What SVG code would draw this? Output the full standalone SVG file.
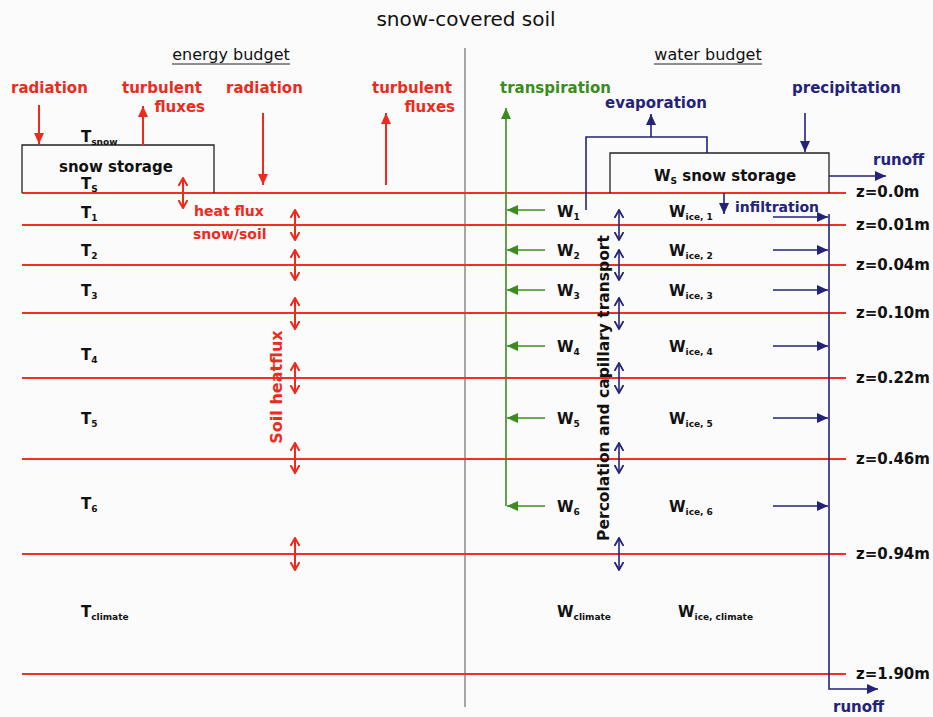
<svg xmlns="http://www.w3.org/2000/svg" width="933" height="717" viewBox="0 0 933 717">
<style>
.t{font-family:"DejaVu Sans",Verdana,sans-serif}
.b{font-family:"DejaVu Sans",Verdana,sans-serif;font-weight:bold;font-size:15px}
.red{fill:#ee2a1e}.navy{fill:#23237a}.grn{fill:#3a8c1e}.blk{fill:#111}
.sub{font-size:9px}
.soil{stroke:#f03020;stroke-width:2;fill:none}
.rl{stroke:#ee2a1e;stroke-width:2;fill:none}
.nl{stroke:#23237a;stroke-width:1.6;fill:none}
.gl{stroke:#3a8c1e;stroke-width:1.6;fill:none}
.box{fill:none;stroke:#222;stroke-width:1.3}
</style>
<defs>
<marker id="ar" markerUnits="userSpaceOnUse" markerWidth="12" markerHeight="12" refX="11" refY="6" orient="auto-start-reverse"><path d="M0,1 L11,6 L0,11 z" fill="#ee2a1e"/></marker>
<marker id="arS" markerUnits="userSpaceOnUse" markerWidth="9" markerHeight="10" refX="8" refY="5" orient="auto-start-reverse"><path d="M0,0.5 L8,5 L0,9.5" fill="none" stroke="#ee2a1e" stroke-width="2"/></marker>
<marker id="an" markerUnits="userSpaceOnUse" markerWidth="12" markerHeight="12" refX="11" refY="6" orient="auto-start-reverse"><path d="M0,1 L11,6 L0,11 z" fill="#23237a"/></marker>
<marker id="anS" markerUnits="userSpaceOnUse" markerWidth="9" markerHeight="10" refX="8" refY="5" orient="auto-start-reverse"><path d="M0,0.5 L8,5 L0,9.5" fill="none" stroke="#23237a" stroke-width="1.8"/></marker>
<marker id="ag" markerUnits="userSpaceOnUse" markerWidth="12" markerHeight="12" refX="11" refY="6" orient="auto-start-reverse"><path d="M0,1 L11,6 L0,11 z" fill="#3a8c1e"/></marker>
</defs>
<rect width="933" height="717" fill="#fbfbfb"/>

<text class="t blk" x="466" y="26" font-size="20" text-anchor="middle">snow-covered soil</text>
<line x1="465" y1="48" x2="465" y2="707" stroke="#8a8a8a" stroke-width="1.5"/>

<g id="headers">
<text class="t blk" x="231" y="60" font-size="16" text-anchor="middle">energy budget</text>
<line x1="172" y1="64" x2="290" y2="64" stroke="#222" stroke-width="1"/>
<text class="t blk" x="708" y="60" font-size="16" text-anchor="middle">water budget</text>
<line x1="654" y1="64" x2="762" y2="64" stroke="#222" stroke-width="1"/>
</g>

<g id="soil-layers">
<line class="soil" x1="22" y1="193" x2="846" y2="193"/>
<line class="soil" x1="22" y1="225" x2="846" y2="225"/>
<line class="soil" x1="22" y1="265" x2="846" y2="265"/>
<line class="soil" x1="22" y1="313" x2="846" y2="313"/>
<line class="soil" x1="22" y1="378" x2="846" y2="378"/>
<line class="soil" x1="22" y1="459" x2="846" y2="459"/>
<line class="soil" x1="22" y1="554" x2="846" y2="554"/>
<line class="soil" x1="22" y1="674" x2="846" y2="674"/>
</g>

<g id="depths" class="b blk">
<text x="856" y="197">z=0.0m</text>
<text x="856" y="230">z=0.01m</text>
<text x="856" y="270">z=0.04m</text>
<text x="856" y="318">z=0.10m</text>
<text x="856" y="383">z=0.22m</text>
<text x="856" y="464">z=0.46m</text>
<text x="856" y="559">z=0.94m</text>
<text x="856" y="679">z=1.90m</text>
</g>

<g id="snow-storage-energy">
<path class="box" d="M22,193 V145 H214 V193"/>
<text class="b blk" x="59" y="172" font-size="14.5">snow storage</text>
<text class="b blk" x="81" y="142">T<tspan class="sub" dy="3">snow</tspan></text>
<text class="b blk" x="81" y="189">T<tspan class="sub" dy="3">S</tspan></text>
</g>

<g id="snow-storage-water">
<path class="box" d="M610,193 V153 H829 V193"/>
<text class="b blk" x="654" y="181">W<tspan class="sub" dy="3">S</tspan><tspan dy="-3"> snow storage</tspan></text>
</g>

<g id="temperatures" class="b blk">
<text x="81" y="218">T<tspan class="sub" dy="3">1</tspan></text>
<text x="81" y="256">T<tspan class="sub" dy="3">2</tspan></text>
<text x="81" y="296">T<tspan class="sub" dy="3">3</tspan></text>
<text x="81" y="360">T<tspan class="sub" dy="3">4</tspan></text>
<text x="81" y="424">T<tspan class="sub" dy="3">5</tspan></text>
<text x="81" y="509">T<tspan class="sub" dy="3">6</tspan></text>
<text x="81" y="617">T<tspan class="sub" dy="3">climate</tspan></text>
</g>

<g id="water-contents" class="b blk">
<text x="557" y="217">W<tspan class="sub" dy="3">1</tspan></text>
<text x="557" y="256">W<tspan class="sub" dy="3">2</tspan></text>
<text x="557" y="296">W<tspan class="sub" dy="3">3</tspan></text>
<text x="557" y="352">W<tspan class="sub" dy="3">4</tspan></text>
<text x="557" y="424">W<tspan class="sub" dy="3">5</tspan></text>
<text x="557" y="512">W<tspan class="sub" dy="3">6</tspan></text>
<text x="557" y="617">W<tspan class="sub" dy="3">climate</tspan></text>
<text x="669" y="217">W<tspan class="sub" dy="3">ice, 1</tspan></text>
<text x="669" y="256">W<tspan class="sub" dy="3">ice, 2</tspan></text>
<text x="669" y="296">W<tspan class="sub" dy="3">ice, 3</tspan></text>
<text x="669" y="352">W<tspan class="sub" dy="3">ice, 4</tspan></text>
<text x="669" y="424">W<tspan class="sub" dy="3">ice, 5</tspan></text>
<text x="669" y="512">W<tspan class="sub" dy="3">ice, 6</tspan></text>
<text x="678" y="617">W<tspan class="sub" dy="3">ice, climate</tspan></text>
</g>

<g id="energy-labels" class="b red">
<text x="11" y="93">radiation</text>
<text x="122" y="93">turbulent</text>
<text x="205" y="112" text-anchor="end">fluxes</text>
<text x="226" y="93">radiation</text>
<text x="372" y="93">turbulent</text>
<text x="455" y="112" text-anchor="end">fluxes</text>
<text x="194" y="216" font-size="14">heat flux</text>
<text x="193" y="239" font-size="14">snow/soil</text>
<text x="0" y="0" font-size="16" text-anchor="middle" transform="translate(282,387) rotate(-90)">Soil heatflux</text>
</g>

<g id="water-labels" class="b">
<text class="grn" x="500" y="93">transpiration</text>
<text class="navy" x="605" y="108">evaporation</text>
<text class="navy" x="792" y="93">precipitation</text>
<text class="navy" x="873" y="165">runoff</text>
<text class="navy" x="735" y="212" font-size="14">infiltration</text>
<text class="navy" x="833" y="712">runoff</text>
<text class="blk" x="0" y="0" font-size="15.5" text-anchor="middle" transform="translate(609,388) rotate(-90)">Percolation and capillary transport</text>
</g>

<g id="connectors">
<line class="rl" x1="39" y1="105" x2="39" y2="144" marker-end="url(#ar)"/>
<line class="rl" x1="143" y1="145" x2="143" y2="106" marker-end="url(#ar)"/>
<line class="rl" x1="263" y1="113" x2="263" y2="185" marker-end="url(#ar)"/>
<line class="rl" x1="386" y1="185" x2="386" y2="113" marker-end="url(#ar)"/>
<line class="rl" stroke-width="1.8" x1="183" y1="178" x2="183" y2="208" marker-start="url(#arS)" marker-end="url(#arS)"/>
<g class="rl" stroke-width="1.8">
<line x1="295" y1="210" x2="295" y2="240" marker-start="url(#arS)" marker-end="url(#arS)"/>
<line x1="295" y1="250" x2="295" y2="280" marker-start="url(#arS)" marker-end="url(#arS)"/>
<line x1="295" y1="298" x2="295" y2="329" marker-start="url(#arS)" marker-end="url(#arS)"/>
<line x1="295" y1="363" x2="295" y2="393" marker-start="url(#arS)" marker-end="url(#arS)"/>
<line x1="295" y1="443" x2="295" y2="473" marker-start="url(#arS)" marker-end="url(#arS)"/>
<line x1="295" y1="538" x2="295" y2="570" marker-start="url(#arS)" marker-end="url(#arS)"/>
</g>
<g class="nl">
<line x1="619" y1="210" x2="619" y2="240" marker-start="url(#anS)" marker-end="url(#anS)"/>
<line x1="619" y1="250" x2="619" y2="280" marker-start="url(#anS)" marker-end="url(#anS)"/>
<line x1="619" y1="298" x2="619" y2="329" marker-start="url(#anS)" marker-end="url(#anS)"/>
<line x1="619" y1="363" x2="619" y2="393" marker-start="url(#anS)" marker-end="url(#anS)"/>
<line x1="619" y1="443" x2="619" y2="473" marker-start="url(#anS)" marker-end="url(#anS)"/>
<line x1="619" y1="538" x2="619" y2="570" marker-start="url(#anS)" marker-end="url(#anS)"/>
</g>
<line class="gl" x1="506" y1="506" x2="506" y2="108" marker-end="url(#ag)"/>
<g class="gl">
<line x1="545" y1="210" x2="507" y2="210" marker-end="url(#ag)"/>
<line x1="545" y1="250" x2="507" y2="250" marker-end="url(#ag)"/>
<line x1="545" y1="290" x2="507" y2="290" marker-end="url(#ag)"/>
<line x1="545" y1="346" x2="507" y2="346" marker-end="url(#ag)"/>
<line x1="545" y1="418" x2="507" y2="418" marker-end="url(#ag)"/>
<line x1="545" y1="506" x2="507" y2="506" marker-end="url(#ag)"/>
</g>
<polyline class="nl" points="586,210 586,137 707,137 707,153"/>
<line class="nl" x1="651" y1="137" x2="651" y2="114" marker-end="url(#an)"/>
<line class="nl" x1="805" y1="113" x2="805" y2="152" marker-end="url(#an)"/>
<line class="nl" x1="829" y1="176" x2="886" y2="176" marker-end="url(#an)"/>
<line class="nl" x1="724" y1="193" x2="724" y2="214" marker-end="url(#an)"/>
<g class="nl">
<line x1="773" y1="217" x2="828" y2="217" marker-end="url(#an)"/>
<line x1="773" y1="250" x2="828" y2="250" marker-end="url(#an)"/>
<line x1="773" y1="290" x2="828" y2="290" marker-end="url(#an)"/>
<line x1="773" y1="346" x2="828" y2="346" marker-end="url(#an)"/>
<line x1="773" y1="418" x2="828" y2="418" marker-end="url(#an)"/>
<line x1="773" y1="506" x2="828" y2="506" marker-end="url(#an)"/>
</g>
<polyline class="nl" points="829,214 829,689 878,689" marker-end="url(#an)"/>
</g>
</svg>
